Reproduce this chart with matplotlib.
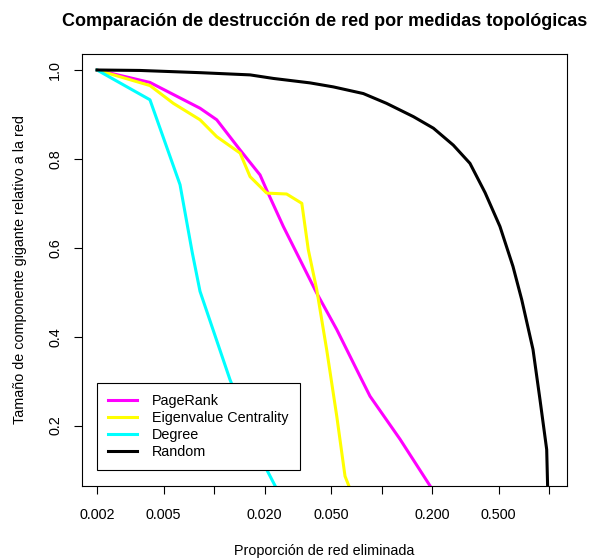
import matplotlib
matplotlib.use("Agg")
import matplotlib.pyplot as plt
from matplotlib.ticker import FixedLocator, FixedFormatter, NullLocator

plt.rcParams['font.family'] = ['Liberation Sans', 'DejaVu Sans']

# fraction of network removed vs. relative giant component size
random_x = [0.002, 0.0036, 0.00824, 0.0164, 0.0226, 0.0374, 0.0515, 0.0778, 0.107,
            0.155, 0.204, 0.268, 0.337, 0.415, 0.509, 0.609, 0.687, 0.802, 0.883,
            0.968, 0.99]
random_y = [1.0, 0.999, 0.994, 0.989, 0.981, 0.971, 0.962, 0.947, 0.925,
            0.895, 0.869, 0.831, 0.790, 0.724, 0.648, 0.558, 0.483, 0.371, 0.258,
            0.146, 0.0]

pagerank_x = [0.002, 0.00414, 0.00824, 0.01037, 0.0143, 0.0188, 0.0206, 0.0259,
              0.0326, 0.041, 0.054, 0.0743, 0.0853, 0.129, 0.195, 0.205]
pagerank_y = [1.0, 0.972, 0.914, 0.888, 0.820, 0.764, 0.730, 0.648,
              0.573, 0.498, 0.416, 0.311, 0.266, 0.169, 0.064, 0.05]

eigen_x = [0.002, 0.00414, 0.00571, 0.00824, 0.01037, 0.0143, 0.0164, 0.0206,
           0.0271, 0.0334, 0.0365, 0.041, 0.047, 0.054, 0.0605, 0.066]
eigen_y = [1.0, 0.965, 0.925, 0.888, 0.850, 0.813, 0.760, 0.723,
           0.721, 0.700, 0.596, 0.506, 0.371, 0.221, 0.086, 0.05]

degree_x = [0.002, 0.00414, 0.00626, 0.00740, 0.00824, 0.01245, 0.0206, 0.025]
degree_y = [1.0, 0.933, 0.742, 0.590, 0.502, 0.303, 0.101, 0.04]

xticks = [0.002, 0.005, 0.01, 0.02, 0.05, 0.1, 0.2, 0.5, 1.0]
xtick_labels = ['0.002', '0.005', '', '0.020', '0.050', '', '0.200', '0.500', '']
yticks = [0.2, 0.4, 0.6, 0.8, 1.0]

fig = plt.figure(figsize=(5.9, 5.6), dpi=100)
ax = fig.add_axes([81.7 / 590, 1 - 486 / 560, (567.3 - 81.7) / 590, (486 - 54) / 560])

lw = 2.2
ax.plot(pagerank_x, pagerank_y, color='#FF00FF', lw=lw, label='PageRank')
ax.plot(eigen_x, eigen_y, color='#FFFF00', lw=lw, label='Eigenvalue Centrality')
ax.plot(degree_x, degree_y, color='#00FFFF', lw=lw, label='Degree')
ax.plot(random_x, random_y, color='black', lw=lw, label='Random')

ax.set_xscale('log')
ax.set_xlim(0.00162, 1.285)
ax.set_ylim(0.064, 1.036)

ax.xaxis.set_major_locator(FixedLocator(xticks))
ax.xaxis.set_major_formatter(FixedFormatter(xtick_labels))
ax.xaxis.set_minor_locator(NullLocator())
ax.set_yticks(yticks)
ax.set_yticklabels([f'{v:.1f}' for v in yticks], rotation=90, va='center')

ax.tick_params(axis='both', length=6, width=0.8, labelsize=10.4)
ax.tick_params(axis='x', pad=10)
ax.tick_params(axis='y', pad=8)
for s in ax.spines.values():
    s.set_linewidth(0.8)

ax.set_xlabel('Proporción de red eliminada', fontsize=10.4, labelpad=16)
ax.set_ylabel('Tamaño de componente gigante relativo a la red', fontsize=10.4, labelpad=15)
ax.set_title('Comparación de destrucción de red por medidas topológicas',
             fontsize=13.0, fontweight='bold', pad=20)

leg = ax.legend(loc='lower left', bbox_to_anchor=(0.031, 0.036), fontsize=10.4,
                fancybox=False, framealpha=1, edgecolor='black',
                handlelength=2.0, handletextpad=1.0, labelspacing=0.2,
                borderpad=0.8, borderaxespad=0)
leg.get_frame().set_linewidth(0.8)

fig.savefig('out.png', dpi=100)
